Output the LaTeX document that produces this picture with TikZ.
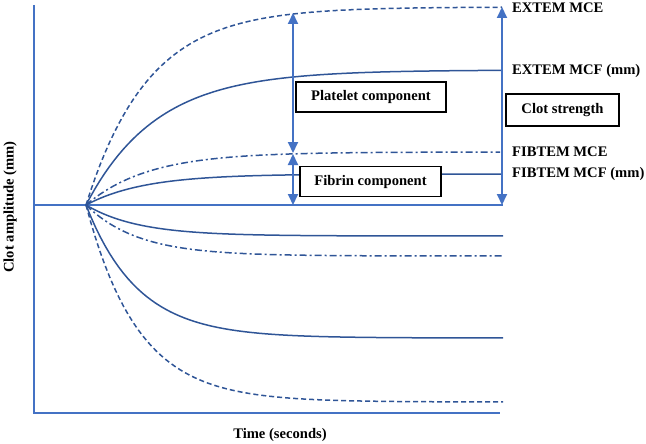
\documentclass[tikz,border=0pt]{standalone}
\usepackage{fontspec}
\setmainfont{Liberation Serif}
\usetikzlibrary{arrows.meta}

\definecolor{axisblue}{HTML}{4472C4}
\definecolor{curveblue}{HTML}{2F5597}

\tikzset{
	axis/.style={axisblue, line width=2pt},
	curve/.style={curveblue, line width=1.5pt},
	dashcurve/.style={curve, dash pattern=on 5pt off 3pt},
	dotcurve/.style={curve, dash pattern=on 7pt off 3pt on 2pt off 3pt},
	span/.style={axisblue, line width=2pt, {Triangle[width=10pt,length=11pt]}-{Triangle[width=10pt,length=11pt]}},
	lbl/.style={font=\fontsize{14.6}{16}\selectfont\bfseries, inner sep=0pt},
	tag/.style={lbl, anchor=west},
	box/.style={lbl, draw=black, line width=1.3pt, fill=white, minimum height=30pt}
}

\begin{document}
\begin{tikzpicture}[x=1pt, y=-1pt]

	\useasboundingbox (0,0) rectangle (646,444);

	% axes
	\coordinate (ytop) at (34,5);
	\coordinate (orig) at (34,413);
	\coordinate (xend) at (500,413);
	\draw[axis] (ytop) -- (orig) -- (xend);

	% baseline
	\coordinate (base0) at (34,205);
	\coordinate (base1) at (503,205);
	\draw[axis] (base0) -- (base1);

	% upper curves
	\draw[dashcurve] plot[domain=86:502, samples=90] (\x, {205-198*(1-exp(-(\x-86)/62))});
	\draw[curve] plot[domain=86:502, samples=90] (\x, {205-135*(1-exp(-(\x-86)/70))});
	\draw[dotcurve] plot[domain=86:500, samples=90] (\x, {205-53*(1-exp(-(\x-86)/62))});
	\draw[curve] plot[domain=86:502, samples=90] (\x, {205-31*(1-exp(-(\x-86)/58))});

	% lower curves
	\draw[curve] plot[domain=86:503, samples=90] (\x, {205+31*(1-exp(-(\x-86)/52))});
	\draw[dotcurve] plot[domain=86:503, samples=90] (\x, {205+51*(1-exp(-(\x-86)/52))});
	\draw[curve] plot[domain=86:503, samples=90] (\x, {205+133*(1-exp(-(\x-86)/52))});
	\draw[dashcurve] plot[domain=86:503, samples=90] (\x, {205+197*(1-exp(-(\x-86)/52))});

	% arrows
	\coordinate (pltop) at (293,13);
	\coordinate (plbot) at (293,153);
	\coordinate (fbtop) at (293,154);
	\coordinate (fbbot) at (293,205);
	\coordinate (cstop) at (502,7);
	\coordinate (csbot) at (502,205);
	\draw[span] (pltop) -- (plbot);
	\draw[span] (fbtop) -- (fbbot);
	\draw[span] (csbot) -- (cstop);

	% boxes
	\node[box, minimum width=150pt] (platelet) at (371,97) {Platelet component};
	\node[box, minimum width=141pt] (fibrin) at (370.5,181.5) {Fibrin component};
	\node[box, minimum width=113pt, minimum height=32pt] (clot) at (562.5,110) {Clot strength};

	% labels
	\node[tag] (extemmce) at (512,8) {EXTEM MCE};
	\node[tag] (extemmcf) at (512,71) {EXTEM MCF (mm)};
	\node[tag] (fibtemmce) at (512,152) {FIBTEM MCE};
	\node[tag] (fibtemmcf) at (512,174) {FIBTEM MCF (mm)};

	\node[lbl, rotate=90] (yname) at (10,207) {Clot amplitude (mm)};
	\node[lbl] (xname) at (280,435) {Time (seconds)};
\end{tikzpicture}
\end{document}
